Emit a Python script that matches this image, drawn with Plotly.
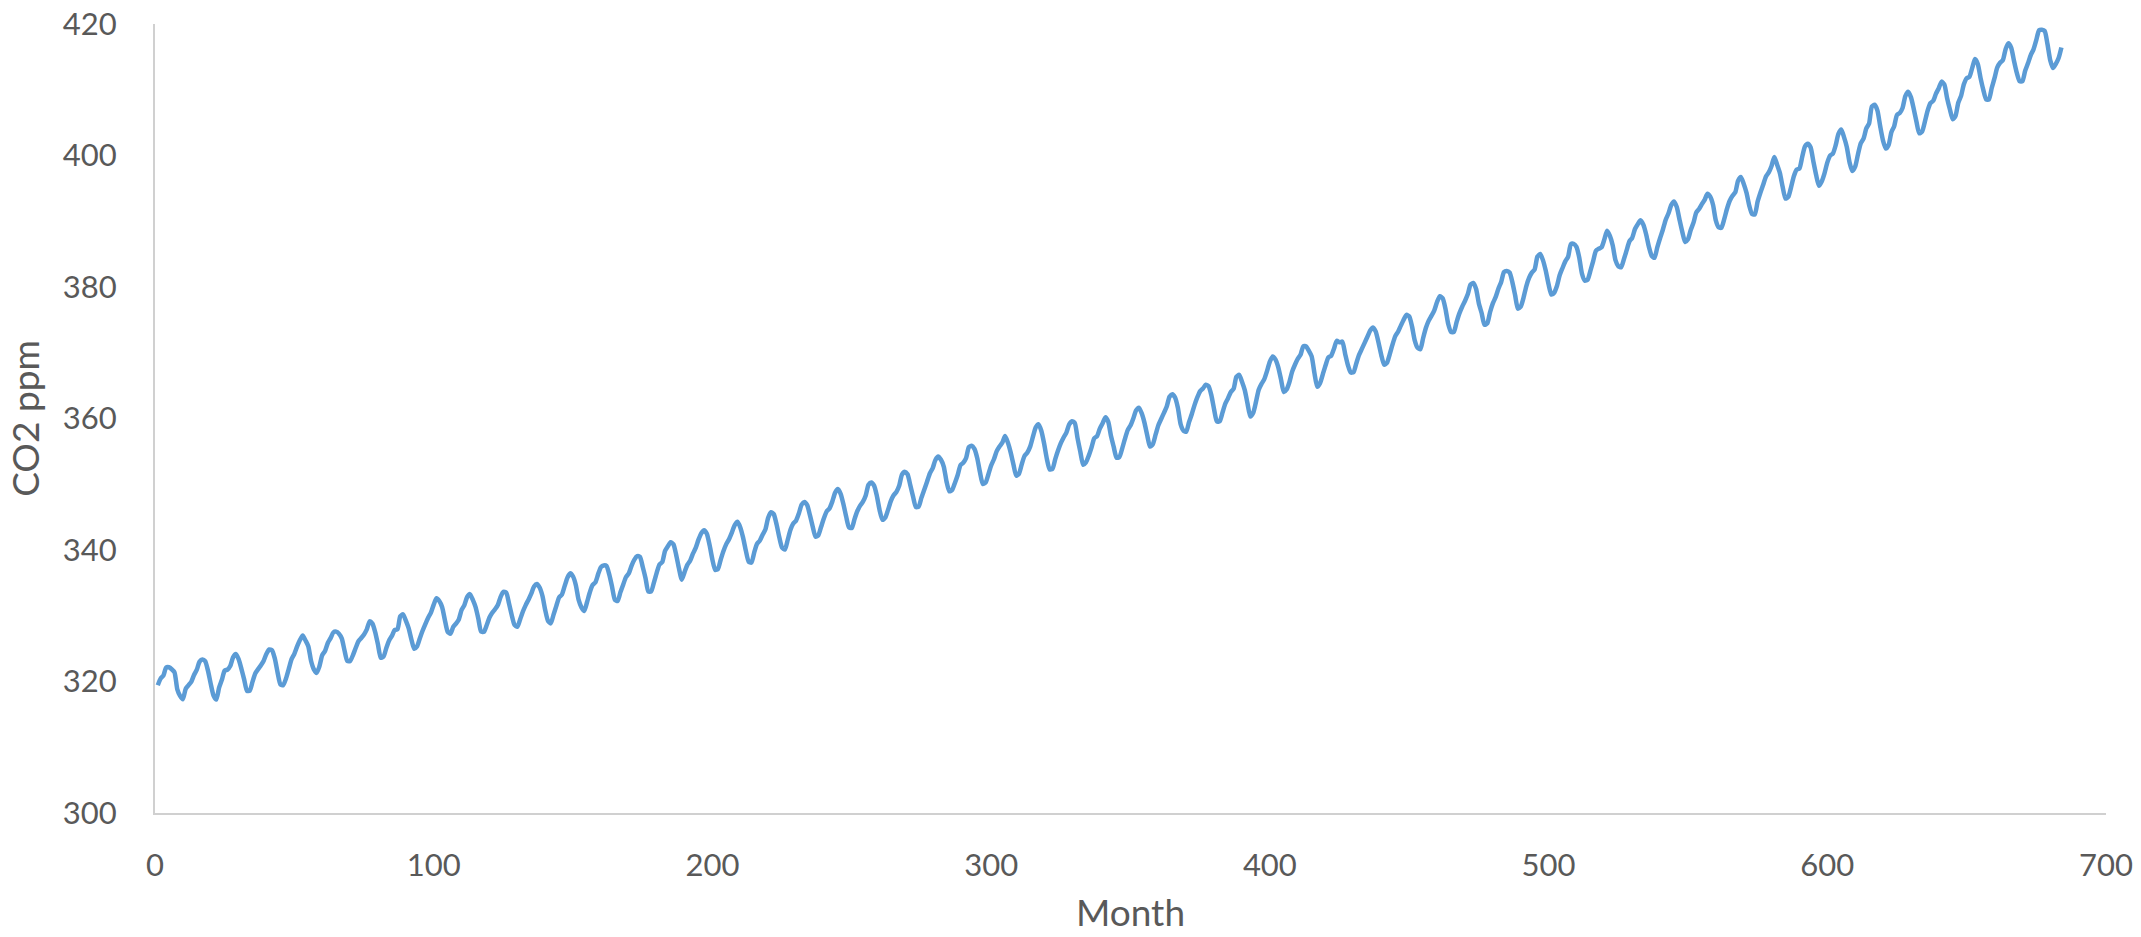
import plotly.graph_objects as go

# Monthly mean CO2 (ppm), Jan 1965 .. Dec 2021
co2_1965_1974 = [
    319.44, 320.44, 320.89, 322.13, 322.16, 321.87, 321.39, 318.81, 317.81, 317.30, 318.87, 319.42,
    319.94, 320.98, 321.81, 323.03, 323.36, 323.11, 321.65, 319.64, 317.86, 317.25, 319.06, 320.26,
    321.65, 321.81, 322.36, 323.67, 324.17, 323.39, 321.93, 320.29, 318.58, 318.60, 319.98, 321.25,
    321.88, 322.47, 323.17, 324.23, 324.88, 324.75, 323.47, 321.34, 319.56, 319.45, 320.45, 321.92,
    323.40, 324.21, 325.33, 326.31, 327.01, 326.24, 325.37, 323.12, 321.85, 321.31, 322.31, 324.00,
    324.63, 325.85, 326.60, 327.47, 327.58, 327.27, 326.55, 324.72, 323.12, 323.11, 323.99, 325.09,
    326.12, 326.61, 327.16, 327.92, 329.14, 328.80, 327.52, 325.62, 323.61, 323.80, 325.10, 326.25,
    326.93, 327.83, 327.95, 329.91, 330.22, 329.25, 328.11, 326.39, 324.97, 325.32, 326.54, 327.71,
    328.73, 329.69, 330.47, 331.69, 332.65, 332.24, 331.34, 329.37, 327.58, 327.27, 328.30, 328.81,
    329.44, 330.89, 331.62, 332.85, 333.29, 332.44, 331.35, 329.58, 327.58, 327.55, 328.56, 329.73,
]
co2_1975_1984 = [
    330.45, 330.98, 331.63, 332.88, 333.63, 333.53, 331.90, 330.08, 328.59, 328.31, 329.44, 330.64,
    331.62, 332.45, 333.36, 334.46, 334.84, 334.29, 333.04, 330.88, 329.23, 328.83, 330.18, 331.50,
    332.80, 333.22, 334.54, 335.82, 336.45, 335.97, 334.65, 332.40, 331.28, 330.73, 332.05, 333.54,
    334.66, 335.07, 336.33, 337.39, 337.65, 337.57, 336.25, 334.39, 332.44, 332.25, 333.59, 334.76,
    335.89, 336.44, 337.63, 338.54, 339.06, 338.95, 337.41, 335.71, 333.68, 333.69, 335.05, 336.53,
    337.81, 338.16, 339.88, 340.57, 341.19, 340.87, 339.25, 337.19, 335.49, 336.63, 337.74, 338.36,
    339.44, 340.33, 341.57, 342.56, 343.01, 342.47, 340.71, 338.52, 336.96, 337.13, 338.58, 339.89,
    340.93, 341.69, 342.69, 343.79, 344.30, 343.43, 341.88, 339.89, 338.23, 338.08, 339.63, 340.92,
    341.43, 342.33, 343.11, 344.90, 345.75, 345.46, 343.91, 341.93, 340.34, 340.06, 341.52, 343.08,
    344.03, 344.46, 345.54, 346.91, 347.31, 346.82, 345.27, 343.52, 342.02, 342.25, 343.53, 344.83,
]
co2_1985_1994 = [
    345.87, 346.32, 347.36, 348.69, 349.27, 348.54, 346.97, 345.05, 343.44, 343.35, 344.72, 345.93,
    346.74, 347.34, 348.28, 349.91, 350.25, 349.78, 348.22, 346.02, 344.59, 344.90, 346.10, 347.43,
    348.33, 348.83, 349.76, 351.48, 351.89, 351.52, 349.85, 348.09, 346.52, 346.60, 347.96, 349.16,
    350.39, 351.64, 352.41, 353.69, 354.21, 353.72, 352.69, 350.40, 348.92, 349.13, 350.20, 351.41,
    352.91, 353.27, 353.96, 355.64, 355.86, 355.37, 353.99, 351.81, 350.05, 350.25, 351.49, 352.85,
    353.80, 355.04, 355.73, 356.32, 357.32, 356.34, 354.84, 353.01, 351.31, 351.62, 353.07, 354.33,
    354.84, 355.73, 357.23, 358.66, 359.13, 358.13, 356.19, 353.85, 352.25, 352.35, 353.81, 355.12,
    356.25, 357.11, 357.86, 359.09, 359.59, 359.33, 357.01, 354.94, 352.96, 353.32, 354.32, 355.57,
    357.00, 357.31, 358.47, 359.27, 360.19, 359.52, 357.33, 355.64, 354.03, 354.12, 355.41, 356.91,
    358.24, 358.92, 359.99, 361.23, 361.65, 360.81, 359.38, 357.46, 355.73, 356.08, 357.53, 358.98,
]
co2_1995_2004 = [
    359.92, 360.86, 361.83, 363.30, 363.69, 363.19, 361.64, 359.12, 358.17, 357.99, 359.45, 360.68,
    362.07, 363.24, 364.17, 364.57, 365.13, 364.92, 363.55, 361.38, 359.54, 359.58, 360.89, 362.24,
    363.09, 364.03, 364.51, 366.35, 366.64, 365.59, 364.31, 362.25, 360.29, 360.82, 362.49, 364.38,
    365.26, 365.98, 367.24, 368.66, 369.42, 368.99, 367.82, 365.95, 364.02, 364.40, 365.52, 367.13,
    368.18, 369.07, 369.68, 370.99, 370.96, 370.30, 369.45, 366.90, 364.81, 365.37, 366.72, 368.10,
    369.29, 369.54, 370.60, 371.82, 371.58, 371.70, 369.86, 368.13, 367.00, 367.03, 368.37, 369.67,
    370.59, 371.51, 372.43, 373.37, 373.85, 373.21, 371.51, 369.61, 368.18, 368.45, 369.76, 371.24,
    372.53, 373.20, 374.12, 375.02, 375.76, 375.52, 374.01, 371.85, 370.75, 370.55, 372.25, 373.79,
    374.88, 375.64, 376.45, 377.73, 378.60, 378.28, 376.70, 374.38, 373.17, 373.15, 374.66, 375.99,
    377.00, 377.87, 378.88, 380.35, 380.62, 379.69, 377.47, 376.01, 374.25, 374.46, 376.16, 377.51,
]
co2_2005_2014 = [
    378.46, 379.73, 380.77, 382.29, 382.45, 382.21, 380.74, 378.74, 376.70, 377.00, 378.35, 380.11,
    381.38, 382.19, 382.67, 384.61, 385.03, 384.05, 382.46, 380.41, 378.85, 379.13, 380.15, 381.82,
    382.89, 383.90, 384.58, 386.50, 386.56, 386.10, 384.50, 381.99, 380.96, 381.12, 382.45, 383.95,
    385.52, 385.82, 386.03, 387.21, 388.54, 387.76, 386.36, 384.09, 383.18, 382.99, 384.19, 385.56,
    386.94, 387.48, 388.82, 389.55, 390.14, 389.48, 388.03, 386.11, 384.74, 384.43, 386.02, 387.42,
    388.71, 390.20, 391.17, 392.46, 393.00, 392.15, 390.20, 388.35, 386.85, 387.24, 388.67, 389.79,
    391.33, 391.86, 392.60, 393.25, 394.19, 393.74, 392.51, 390.13, 389.08, 389.00, 390.28, 391.86,
    393.12, 393.86, 394.40, 396.18, 396.74, 395.71, 394.36, 392.39, 391.11, 391.05, 392.98, 394.34,
    395.55, 396.80, 397.43, 398.41, 399.78, 398.60, 397.32, 395.20, 393.45, 393.70, 395.16, 396.84,
    397.85, 398.01, 399.77, 401.38, 401.78, 401.25, 399.10, 397.03, 395.38, 396.03, 397.28, 398.91,
]
co2_2015_2021 = [
    399.98, 400.28, 401.54, 403.28, 403.96, 402.80, 401.31, 398.93, 397.63, 398.29, 400.16, 401.85,
    402.56, 404.12, 404.87, 407.45, 407.72, 406.83, 404.41, 402.27, 401.05, 401.59, 403.55, 404.45,
    406.17, 406.46, 407.22, 409.04, 409.69, 408.88, 407.12, 405.13, 403.37, 403.63, 405.12, 406.81,
    407.96, 408.32, 409.41, 410.24, 411.24, 410.79, 408.71, 406.99, 405.51, 406.00, 408.02, 409.07,
    410.83, 411.75, 411.97, 413.32, 414.66, 413.92, 411.77, 409.95, 408.54, 408.53, 410.27, 411.76,
    413.40, 414.11, 414.51, 416.21, 417.07, 416.38, 414.38, 412.55, 411.29, 411.28, 412.89, 414.02,
    415.28, 416.14, 417.57, 419.05, 419.13, 418.94, 416.96, 414.47, 413.30, 413.93, 414.82, 416.43,
]

co2_ppm = co2_1965_1974 + co2_1975_1984 + co2_1985_1994 + co2_1995_2004 + co2_2005_2014 + co2_2015_2021
months = list(range(1, len(co2_ppm) + 1))

x_ticks = [0, 100, 200, 300, 400, 500, 600, 700]
y_ticks = [300, 320, 340, 360, 380, 400, 420]

TEXT = "#595959"
AXIS = "#D0D0D0"
FONT = "Lato, 'Open Sans', sans-serif"

fig = go.Figure()
fig.add_trace(go.Scatter(
    x=months, y=co2_ppm, mode="lines",
    line=dict(color="#5B9BD5", width=4.5, shape="spline", smoothing=0.6),
    showlegend=False, hoverinfo="x+y",
))

fig.update_layout(
    width=2141, height=937,
    margin=dict(l=155, r=35, t=24, b=124),
    paper_bgcolor="white", plot_bgcolor="white",
    font=dict(family=FONT, color=TEXT, size=31),
)
fig.update_xaxes(
    range=[0, 700], tickvals=x_ticks, ticktext=[str(v) for v in x_ticks],
    showgrid=False, zeroline=False, showline=True, linecolor=AXIS, linewidth=2,
    ticks="", ticklabelstandoff=24, automargin=False, ticklabeloverflow="allow",
    tickfont=dict(family=FONT, size=31, color=TEXT),
    title=dict(text="Month", font=dict(family=FONT, size=37, color=TEXT), standoff=18),
)
fig.update_yaxes(
    range=[300, 420], tickvals=y_ticks, ticktext=[str(v) for v in y_ticks],
    showgrid=False, zeroline=False, showline=True, linecolor=AXIS, linewidth=2,
    ticks="", ticklabelstandoff=30, automargin=False, ticklabeloverflow="allow",
    tickfont=dict(family=FONT, size=31, color=TEXT),
    title=dict(text="CO2 ppm", font=dict(family=FONT, size=37, color=TEXT), standoff=12),
)

# remove the browser's default 8px page margin so the figure fills the window exactly
fig.write_html(
    "out.html",
    config={"displayModeBar": False},
    post_script="document.body.style.margin='0'; document.body.style.overflow='hidden';",
)
